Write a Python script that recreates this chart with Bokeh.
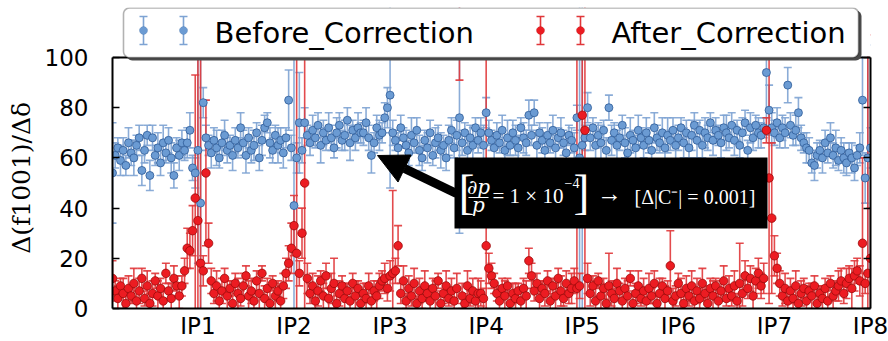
import numpy as np
from bokeh.plotting import figure
from bokeh.models import (ColumnDataSource, Range1d, FixedTicker, LinearAxis, Label,
                          BoxAnnotation, Arrow, NormalHead, PolyAnnotation, CustomJSTickFormatter)
from bokeh.embed import file_html
from bokeh.resources import INLINE

# ---------------- data (BPM index along the ring) ----------------
ip_ticks = [32, 68, 104, 140, 176, 212, 248, 284]
ip_labels = ["IP1", "IP2", "IP3", "IP4", "IP5", "IP6", "IP7", "IP8"]
y_ticks = [0, 20, 40, 60, 80, 100]

before = [
    54, 61, 64, 59, 63, 57, 66, 62, 60, 65, 68, 55,
    63, 69, 53, 68, 61, 64, 58, 66, 62, 67, 60, 53,
    64, 61, 66, 63, 66, 71, 56, 54,
    63, 42, 82, 68, 65, 62, 67, 64, 60, 66, 69, 63,
    65, 61, 67, 64, 72, 66, 61, 68, 63, 65, 70, 60,
    67, 72, 74, 66, 63, 69, 65, 67, 62, 68, 83, 64,
    41, 60, 74, 63, 74, 69, 66, 71, 68, 73, 65, 70,
    67, 72, 68, 64, 70, 73, 67, 69, 75, 66, 71, 68,
    72, 70, 70, 74, 68, 61, 66, 72, 69, 70, 76, 80,
    85, 70, 67, 64, 72, 68, 65, 62, 69, 66, 71, 63,
    60, 67, 64, 70, 61, 66, 68, 63, 65, 60, 67, 71,
    64, 69, 76, 66, 70, 63, 68, 65, 72, 67, 70, 65,
    78, 70, 67, 64, 69, 66, 71, 63, 68, 65, 70, 67,
    64, 72, 68, 66, 77, 69, 78, 65, 70, 67, 63, 69,
    66, 71, 64, 68, 70, 66, 62, 69, 67, 64, 76, 60,
    65, 68, 80, 68, 72, 65, 69, 66, 71, 63, 80, 67,
    70, 65, 68, 73, 66, 62, 69, 67, 64, 71, 68, 65,
    70, 67, 63, 72, 68, 66, 70, 64, 69, 67, 71, 65,
    68, 72, 66, 70, 64, 69, 73, 67, 71, 65, 70, 68,
    74, 67, 71, 69, 66, 72, 70, 68, 73, 67, 71, 65,
    70, 74, 63, 72, 68, 73, 70, 69, 72, 94, 79, 72,
    70, 74, 68, 72, 70, 89, 73, 69, 71, 78, 68, 66,
    64, 63, 58, 57, 61, 63, 60, 66, 62, 68, 61, 64,
    59, 63, 60, 58, 62, 60, 56, 61, 64, 83, 52, 60,
    64,
]
before_err = [
    20, 5, 4, 6, 5, 4, 6, 5, 7, 4, 5, 6,
    5, 4, 6, 5, 4, 6, 5, 7, 4, 5, 6, 5,
    4, 6, 5, 4, 6, 7, 5, 6,
    45, 60, 6, 5, 4, 6, 5, 7, 4, 5, 6, 5,
    4, 6, 5, 4, 6, 5, 7, 4, 5, 6, 4, 5,
    6, 5, 4, 6, 5, 4, 7, 5, 6, 4, 12, 5,
    60, 6, 20, 5, 6, 4, 5, 6, 4, 5, 7, 5,
    4, 6, 5, 4, 6, 5, 4, 6, 5, 7, 4, 5,
    6, 4, 5, 6, 5, 7, 4, 5, 6, 4, 6, 8,
    37, 5, 4, 6, 5, 4, 6, 5, 7, 4, 5, 6,
    5, 4, 6, 5, 4, 6, 5, 7, 4, 5, 6, 5,
    4, 6, 46, 5, 4, 6, 5, 7, 4, 5, 6, 8,
    6, 5, 4, 6, 5, 4, 6, 5, 7, 4, 5, 6,
    5, 4, 6, 5, 6, 4, 5, 6, 4, 5, 6, 5,
    4, 6, 5, 4, 6, 5, 7, 4, 5, 6, 5, 100,
    100, 5, 6, 5, 4, 6, 5, 7, 4, 5, 5, 6,
    4, 6, 5, 4, 6, 5, 7, 4, 5, 6, 4, 5,
    6, 5, 4, 6, 5, 4, 6, 5, 7, 4, 5, 6,
    5, 4, 6, 5, 4, 6, 5, 7, 4, 5, 6, 5,
    4, 6, 5, 4, 6, 5, 7, 4, 5, 6, 4, 5,
    6, 5, 4, 6, 5, 4, 6, 5, 4, 18, 10, 6,
    5, 6, 4, 5, 6, 7, 5, 4, 6, 6, 5, 4,
    6, 5, 4, 6, 5, 4, 6, 5, 4, 6, 5, 7,
    4, 5, 6, 5, 4, 6, 5, 4, 6, 22, 10, 45,
    8,
]
after = [
    12, 7, 4, 9, 6, 2, 8, 5, 10, 3, 7, 12,
    4, 9, 2, 6, 11, 5, 8, 3, 14, 7, 4, 12,
    9, 5, 9, 15, 24, 23, 31, 44,
    35, 18, 15, 54, 26, 11, 6, 9, 3, 7, 12, 5,
    8, 2, 10, 6, 4, 9, 13, 5, 7, 3, 11, 6,
    14, 4, 8, 2, 10, 5, 7, 3, 9, 14, 18, 24,
    33, 22, 14, 30, 50, 12, 6, 9, 3, 7, 11, 5,
    13, 4, 8, 10, 2, 6, 9, 4, 7, 3, 10, 5,
    8, 2, 6, 4, 9, 3, 7, 5, 9, 11, 12, 8,
    13, 14, 15, 25, 6, 11, 3, 8, 5, 10, 2, 7,
    4, 9, 6, 3, 8, 5, 11, 2, 6, 9, 4, 7,
    3, 8, 125, 5, 2, 9, 4, 7, 3, 6, 6, 4,
    25, 16, 13, 10, 6, 3, 8, 5, 9, 2, 6, 4,
    7, 3, 8, 5, 19, 13, 7, 10, 4, 8, 6, 11,
    3, 9, 5, 12, 7, 4, 10, 6, 8, 11, 8, 9,
    77, 71, 12, 6, 9, 3, 11, 5, 8, 2, 9, 6,
    4, 10, 7, 3, 8, 5, 12, 2, 6, 9, 4, 7,
    3, 8, 5, 10, 2, 6, 9, 4, 7, 17, 3, 5,
    10, 6, 2, 8, 5, 9, 3, 7, 4, 10, 6, 2,
    8, 5, 9, 3, 7, 11, 4, 8, 5, 9, 3, 10,
    6, 13, 8, 12, 5, 11, 14, 9, 12, 71, 52, 36,
    21, 16, 10, 5, 8, 3, 7, 4, 9, 2, 6, 8,
    3, 7, 5, 9, 2, 6, 4, 8, 3, 10, 5, 7,
    9, 11, 6, 10, 12, 8, 13, 15, 11, 26, 10, 14,
    20,
]
after_err = [
    7, 4, 5, 3, 6, 4, 5, 3, 6, 4, 5, 4,
    3, 6, 4, 5, 3, 6, 4, 5, 4, 3, 6, 5,
    4, 5, 4, 5, 8, 7, 10, 49,
    80, 90, 6, 29, 8, 5, 4, 6, 3, 5, 4, 6,
    3, 5, 4, 6, 3, 5, 4, 6, 5, 3, 4, 6,
    3, 5, 4, 6, 3, 5, 4, 6, 5, 6, 7, 10,
    12, 90, 5, 10, 55, 6, 4, 5, 3, 6, 4, 5,
    5, 4, 6, 10, 3, 5, 4, 6, 3, 5, 4, 6,
    3, 5, 4, 6, 5, 3, 4, 6, 5, 4, 6, 5,
    6, 33, 5, 8, 4, 6, 3, 5, 4, 6, 3, 5,
    4, 6, 3, 5, 4, 6, 3, 5, 4, 6, 3, 5,
    4, 6, 34, 5, 4, 6, 3, 5, 4, 6, 5, 4,
    80, 6, 5, 4, 3, 5, 4, 6, 3, 5, 4, 6,
    3, 5, 4, 6, 5, 5, 4, 4, 6, 3, 5, 4,
    6, 3, 5, 4, 6, 3, 5, 4, 6, 5, 100, 5,
    40, 80, 6, 5, 4, 6, 3, 5, 4, 6, 13, 5,
    4, 6, 3, 5, 4, 6, 3, 5, 4, 6, 3, 5,
    4, 6, 3, 5, 4, 6, 3, 5, 4, 14, 5, 4,
    4, 6, 3, 5, 4, 6, 3, 5, 4, 6, 3, 5,
    4, 6, 3, 5, 4, 6, 3, 5, 4, 6, 3, 16,
    5, 6, 4, 5, 6, 5, 6, 5, 6, 5, 50, 30,
    8, 6, 5, 4, 6, 3, 5, 4, 6, 3, 5, 4,
    6, 3, 5, 4, 6, 3, 5, 4, 6, 3, 5, 4,
    6, 5, 4, 6, 5, 8, 6, 5, 6, 34, 4, 95,
    20,
]

# ---------------- styling ----------------
W, H = 888, 341
FL, FR, FT, FB = 112, 870, 7, 308     # frame edges (frame reaches up under the legend)
AX_TOP = 57                            # page row of the value 100
Y_TOP = 100.0 * (FB - FT) / (FB - AX_TOP)

B_FILL, B_EDGE, B_BAR = "#6b9bd3", "#2e5c98", "#7ea3d3"
R_FILL, R_EDGE, R_BAR = "#ec1c22", "#9a0a0a", "#e0373a"
LAB_DY = -7


def sx(px):
    return float(px - FL)


def sy(py):
    return float(FB - py)


p = figure(width=W, height=H, x_range=Range1d(0, 284), y_range=Range1d(0, Y_TOP),
           output_backend="svg", toolbar_location=None,
           min_border_left=FL, min_border_right=W - FR, min_border_top=FT,
           min_border_bottom=H - FB, background_fill_color="white",
           border_fill_color="white")
p.grid.visible = False
p.outline_line_color = None


def make_src(vals, errs):
    x = list(range(len(vals)))
    return ColumnDataSource(dict(x=x, y=vals,
                                 lo=[v - e for v, e in zip(vals, errs)],
                                 hi=[v + e for v, e in zip(vals, errs)]))


src_b = make_src(before, before_err)
src_a = make_src(after, after_err)

for src, col in [(src_b, B_BAR), (src_a, R_BAR)]:
    p.segment(x0="x", y0="lo", x1="x", y1="hi", source=src, line_color=col,
              line_width=1.6, line_alpha=0.9)
    p.scatter(x="x", y="hi", source=src, marker="dash", size=8, line_color=col,
              line_width=1.6, line_alpha=0.9)
    p.scatter(x="x", y="lo", source=src, marker="dash", size=8, line_color=col,
              line_width=1.6, line_alpha=0.9)

p.scatter(x="x", y="y", source=src_b, size=8, fill_color=B_FILL, line_color=B_EDGE,
          line_width=0.8)
p.scatter(x="x", y="y", source=src_a, size=8.5, fill_color=R_FILL, line_color=R_EDGE,
          line_width=0.8)

# axes
xa = p.xaxis[0]
xa.ticker = FixedTicker(ticks=ip_ticks)
xa.major_label_overrides = {t: l for t, l in zip(ip_ticks, ip_labels)}
xa.major_tick_in = 0
xa.major_tick_out = 0
xa.minor_tick_in = 0
xa.minor_tick_out = 0
xa.axis_line_width = 2
xa.major_label_standoff = 4
xa.major_label_text_font = "DejaVu Sans"
xa.major_label_text_font_size = "23px"
xa.major_label_text_color = "black"

ya = p.yaxis[0]
ya.ticker = FixedTicker(ticks=y_ticks)
ya.bounds = (0, 100)
ya.major_tick_in = 7
ya.major_tick_out = 0
ya.minor_tick_in = 0
ya.minor_tick_out = 0
ya.major_tick_line_width = 1.5
ya.axis_line_width = 2
ya.major_label_standoff = 24
ya.major_label_text_font = "DejaVu Sans"
ya.major_label_text_font_size = "23px"
ya.major_label_text_color = "black"
ya.axis_label = "Δ(f1001)/Δδ" + "\u00a0" * 5
ya.axis_label_text_font = "DejaVu Serif"
ya.axis_label_text_font_style = "normal"
ya.axis_label_text_font_size = "25px"
ya.axis_label_standoff = 6
ya.axis_label_text_color = "black"

ry = LinearAxis(ticker=FixedTicker(ticks=y_ticks), bounds=(0, 100),
                formatter=CustomJSTickFormatter(code="return ''"),
                major_tick_in=7, major_tick_out=0, minor_tick_in=0, minor_tick_out=0,
                major_tick_line_width=1.5, axis_line_width=2, major_label_standoff=0)
p.add_layout(ry, "right")

SERIF = "Liberation Serif"


def lab(text, x, y, size, align="left", style="normal", color="white", font=SERIF):
    p.add_layout(Label(x=sx(x), y=sy(y + LAB_DY), x_units="screen", y_units="screen",
                       text=text, text_font=font, text_font_size=size,
                       text_font_style=style, text_color=color, text_align=align,
                       text_baseline="alphabetic"))


def poly(xs, ys, fill, line=None, lw=1.0):
    p.add_layout(PolyAnnotation(xs=[sx(v) for v in xs], ys=[sy(v) for v in ys],
                                xs_units="screen", ys_units="screen",
                                fill_color=fill, fill_alpha=1.0,
                                line_color=line, line_width=lw))


def rect(x0, y0, x1, y1, fill):
    poly([x0, x1, x1, x0], [y0, y0, y1, y1], fill)


# mask the strip above the value 100 and draw the top spine
rect(FL - 2, FT - 2, FR + 2, AX_TOP - 1, "white")
rect(FL, AX_TOP - 1, FR, AX_TOP + 1, "black")

# ---------------- annotation box with arrow ----------------
p.add_layout(Arrow(x_start=sx(456), y_start=sy(193), x_end=sx(377), y_end=sy(155),
                   start_units="screen", end_units="screen",
                   end=NormalHead(size=30, fill_color="black", line_color="black"),
                   line_color="black", line_width=9))
p.add_layout(BoxAnnotation(left=sx(454), right=sx(767), top=sy(157), bottom=sy(228),
                           left_units="screen", right_units="screen",
                           top_units="screen", bottom_units="screen",
                           fill_color="black", fill_alpha=1.0, line_color=None))

lab("[", 458, 198, "48px")
lab("∂p", 478, 193, "20px", align="center", style="italic", font="DejaVu Serif")
rect(468, 196.4, 488, 197.6, "white")
lab("p", 478, 211, "20px", align="center", style="italic", font="DejaVu Serif")
lab("= 1 × 10", 492, 202, "21px")
lab("−4", 564, 189, "14px")
lab("]", 573, 198, "48px")
lab("→", 609, 200, "25px", align="center")
lab("[Δ|C⁻| = 0.001]", 634, 203, "20px")

# ---------------- legend ----------------


def rounded(x0, y0, x1, y1, r, n=7):
    xs, ys = [], []
    for cx, cy, a0, a1 in [(x1 - r, y0 + r, -90, 0), (x1 - r, y1 - r, 0, 90),
                           (x0 + r, y1 - r, 90, 180), (x0 + r, y0 + r, 180, 270)]:
        for a in np.linspace(np.radians(a0), np.radians(a1), n):
            xs.append(float(cx + r * np.cos(a)))
            ys.append(float(cy + r * np.sin(a)))
    return xs, ys


sxs, sys_ = rounded(126, 10, 861, 60, 6)
poly(sxs, sys_, "#4a4a4a")
bxs, bys = rounded(123, 7.5, 858, 57, 6)
poly(bxs, bys, "white", line="black", lw=1.6)


def icon(cx, bar, fill, edge):
    rect(cx - 0.8, 16, cx + 0.8, 44, bar)
    rect(cx - 4, 15.2, cx + 4, 16.8, bar)
    rect(cx - 4, 43.2, cx + 4, 44.8, bar)
    a = np.linspace(0, 2 * np.pi, 20, endpoint=False)
    poly([float(cx + 4 * np.cos(t)) for t in a], [float(30 + 4 * np.sin(t)) for t in a],
         fill, line=edge, lw=0.8)


for cx in (143, 183):
    icon(cx, B_BAR, B_FILL, B_EDGE)
for cx in (540, 580):
    icon(cx, R_BAR, R_FILL, R_EDGE)

lab("Before_Correction", 214, 39, "29px", color="black", font="DejaVu Sans")
lab("After_Correction", 611, 39, "29px", color="black", font="DejaVu Sans")

open("out.html", "w").write(file_html(p, INLINE))
